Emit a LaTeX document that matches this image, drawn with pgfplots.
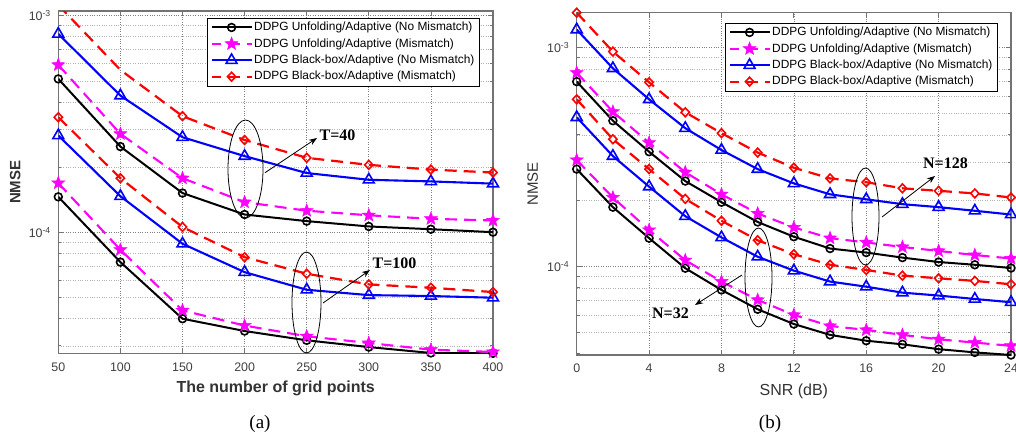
\documentclass[border=0pt]{standalone}
\usepackage{fontspec}
\setmainfont{Liberation Sans}
\newfontfamily\timesfont{Liberation Serif}
\usepackage{pgfplots}
\pgfplotsset{compat=1.18}
\usetikzlibrary{arrows.meta}
\definecolor{mag}{RGB}{255,0,255}
\definecolor{bl}{RGB}{0,0,255}
\definecolor{rd}{RGB}{255,0,0}

\pgfdeclareplotmark{fstar}{%
  \pgfpathmoveto{\pgfpointpolar{90}{\pgfplotmarksize}}%
  \pgfpathlineto{\pgfpointpolar{126}{0.42\pgfplotmarksize}}%
  \pgfpathlineto{\pgfpointpolar{162}{\pgfplotmarksize}}%
  \pgfpathlineto{\pgfpointpolar{198}{0.42\pgfplotmarksize}}%
  \pgfpathlineto{\pgfpointpolar{234}{\pgfplotmarksize}}%
  \pgfpathlineto{\pgfpointpolar{270}{0.42\pgfplotmarksize}}%
  \pgfpathlineto{\pgfpointpolar{306}{\pgfplotmarksize}}%
  \pgfpathlineto{\pgfpointpolar{342}{0.42\pgfplotmarksize}}%
  \pgfpathlineto{\pgfpointpolar{18}{\pgfplotmarksize}}%
  \pgfpathlineto{\pgfpointpolar{54}{0.42\pgfplotmarksize}}%
  \pgfpathclose
  \pgfusepathqfillstroke
}

\pgfplotsset{
  legend image code/.code={\draw[mark repeat=2,mark phase=2,#1,dash phase=3pt] plot coordinates {(0pt,0pt) (20pt,0pt) (40pt,0pt)};},
}

\begin{document}
\begin{tikzpicture}
\path[use as bounding box] (0pt,0pt) rectangle (1016pt,434pt);

% ---------------- (a) ----------------
\begin{axis}[
  scale only axis, anchor=south west, ymode=log,
  clip mode=individual,
  axis line style={draw=black!55, line width=1.2pt},
  tick style={draw=black!55, line width=0.8pt},
  tick align=inside, major tick length=5pt, minor tick length=3pt,
  xtick pos=both, ytick pos=both,
  grid=both,
  major grid style={dotted, black!50, line width=0.7pt},
  minor grid style={dotted, black!30, line width=0.6pt},
  tick label style={font=\fontsize{12.4}{14}\selectfont, text=black!75},
  xticklabel style={yshift=-5.5pt},
  yticklabel style={xshift=-4pt},
  /pgf/number format/assume math mode=true,
  legend cell align=left,
  legend style={font=\fontsize{11.9}{13}\selectfont, draw=black,
    inner xsep=3pt, inner ysep=2pt, row sep=1.9pt,
    nodes={inner sep=1.5pt, text height=9pt, text depth=2.5pt},
    at={(0.968,0.9795)}, anchor=north east},
  at={(58.3pt,80.7pt)}, width=434.7pt, height=342.3pt,
  xmin=50, xmax=400, ymin=2.77e-5, ymax=1.051e-3,
  xtick={50,100,...,400},
  ytick={1e-4,1e-3}, yticklabels={10\textsuperscript{-4},10\textsuperscript{-3}},
  minor ytick={3e-5,4e-5,5e-5,6e-5,7e-5,8e-5,9e-5,2e-4,3e-4,4e-4,5e-4,6e-4,7e-4,8e-4,9e-4},
  xlabel={\textbf{The number of grid points}},
  ylabel={\textbf{NMSE}},
  xlabel style={font=\fontsize{16}{18}\selectfont, text=black!80, at={(axis description cs:0.5,-0.1022)}, anchor=center},
  ylabel style={font=\fontsize{15}{17}\selectfont, text=black!80, at={(axis description cs:-0.0989,0.5)}, anchor=center},
]
\addplot[black, solid, line width=2pt, mark=o, mark size=3.9pt, mark options={solid, line width=1.6pt}] coordinates {(50,5.11e-4) (100,2.49e-4) (150,1.52e-4) (200,1.21e-4) (250,1.128e-4) (300,1.066e-4) (350,1.035e-4) (400,1.003e-4)};
\addlegendentry{DDPG Unfolding/Adaptive (No Mismatch)}
\addplot[mag, dash pattern=on 12pt off 7pt, line width=2.1pt, mark=fstar, mark size=6.8pt, mark options={solid, fill=mag, line width=0.5pt}] coordinates {(50,5.93e-4) (100,2.85e-4) (150,1.78e-4) (200,1.38e-4) (250,1.26e-4) (300,1.20e-4) (350,1.156e-4) (400,1.136e-4)};
\addlegendentry{DDPG Unfolding/Adaptive (Mismatch)}
\addplot[bl, solid, line width=2.1pt, mark=triangle, mark size=6.3pt, mark options={solid, line width=1.6pt}] coordinates {(50,8.24e-4) (100,4.28e-4) (150,2.75e-4) (200,2.25e-4) (250,1.88e-4) (300,1.75e-4) (350,1.72e-4) (400,1.68e-4)};
\addlegendentry{DDPG Black-box/Adaptive (No Mismatch)}
\addplot[rd, dash pattern=on 12pt off 7pt, line width=2.2pt, mark=diamond, mark size=4.4pt, mark options={solid, line width=1.6pt, xscale=1.25}, mark indices={2,3,4,5,6,7,8}, forget plot] coordinates {(50,1.12e-3) (100,5.62e-4) (150,3.44e-4) (200,2.67e-4) (250,2.21e-4) (300,2.05e-4) (350,1.95e-4) (400,1.89e-4)};
\addlegendimage{rd, dash pattern=on 12pt off 7pt, line width=2.2pt, mark=diamond, mark size=4.4pt, mark options={solid, line width=1.6pt, xscale=1.25}}
\addlegendentry{DDPG Black-box/Adaptive (Mismatch)}
\addplot[black, solid, line width=2pt, mark=o, mark size=3.9pt, mark options={solid, line width=1.6pt}, forget plot] coordinates {(50,1.46e-4) (100,7.30e-5) (150,4.00e-5) (200,3.51e-5) (250,3.18e-5) (300,2.96e-5) (350,2.78e-5) (400,2.77e-5)};
\addplot[mag, dash pattern=on 12pt off 7pt, line width=2.1pt, mark=fstar, mark size=6.8pt, mark options={solid, fill=mag, line width=0.5pt}, forget plot] coordinates {(50,1.69e-4) (100,8.32e-5) (150,4.37e-5) (200,3.72e-5) (250,3.32e-5) (300,3.09e-5) (350,2.88e-5) (400,2.81e-5)};
\addplot[bl, solid, line width=2.1pt, mark=triangle, mark size=6.3pt, mark options={solid, line width=1.6pt}, forget plot] coordinates {(50,2.80e-4) (100,1.47e-4) (150,8.87e-5) (200,6.56e-5) (250,5.44e-5) (300,5.14e-5) (350,5.09e-5) (400,5.00e-5)};
\addplot[rd, dash pattern=on 12pt off 7pt, line width=2.2pt, mark=diamond, mark size=4.4pt, mark options={solid, line width=1.6pt, xscale=1.25}, forget plot] coordinates {(50,3.40e-4) (100,1.78e-4) (150,1.06e-4) (200,7.69e-5) (250,6.45e-5) (300,5.76e-5) (350,5.56e-5) (400,5.31e-5)};
\end{axis}

% ---------------- (b) ----------------
\begin{axis}[
  scale only axis, anchor=south west, ymode=log,
  clip mode=individual,
  axis line style={draw=black!55, line width=1.2pt},
  tick style={draw=black!55, line width=0.8pt},
  tick align=inside, major tick length=5pt, minor tick length=3pt,
  xtick pos=both, ytick pos=both,
  grid=both,
  major grid style={dotted, black!50, line width=0.7pt},
  minor grid style={dotted, black!30, line width=0.6pt},
  tick label style={font=\fontsize{12.4}{14}\selectfont, text=black!75},
  xticklabel style={yshift=-5.5pt},
  yticklabel style={xshift=-4pt},
  /pgf/number format/assume math mode=true,
  legend cell align=left,
  legend style={font=\fontsize{11.9}{13}\selectfont, draw=black,
    inner xsep=3pt, inner ysep=2pt, row sep=1.9pt,
    nodes={inner sep=1.5pt, text height=9pt, text depth=2.5pt},
    at={(0.968,0.970)}, anchor=north east},
  at={(576.7pt,79pt)}, width=434.3pt, height=342.3pt,
  xmin=0, xmax=24, ymin=3.95e-5, ymax=1.445e-3,
  xtick={0,4,...,24},
  ytick={1e-4,1e-3}, yticklabels={10\textsuperscript{-4},10\textsuperscript{-3}},
  minor ytick={4e-5,5e-5,6e-5,7e-5,8e-5,9e-5,2e-4,3e-4,4e-4,5e-4,6e-4,7e-4,8e-4,9e-4},
  xlabel={SNR (dB)},
  ylabel={NMSE},
  xlabel style={font=\fontsize{16}{18}\selectfont, text=black!80, at={(axis description cs:0.5,-0.105)}, anchor=center},
  ylabel style={font=\fontsize{15}{17}\selectfont, text=black!80, at={(axis description cs:-0.1014,0.5)}, anchor=center},
]
\addplot[black, solid, line width=2pt, mark=o, mark size=3.9pt, mark options={solid, line width=1.6pt}] coordinates {(0,7.0e-4) (2,4.64e-4) (4,3.35e-4) (6,2.46e-4) (8,1.97e-4) (10,1.60e-4) (12,1.37e-4) (14,1.21e-4) (16,1.16e-4) (18,1.10e-4) (20,1.05e-4) (22,1.02e-4) (24,9.86e-5)};
\addlegendentry{DDPG Unfolding/Adaptive (No Mismatch)}
\addplot[mag, dash pattern=on 12pt off 7pt, line width=2.1pt, mark=fstar, mark size=6.8pt, mark options={solid, fill=mag, line width=0.5pt}] coordinates {(0,7.69e-4) (2,5.10e-4) (4,3.68e-4) (6,2.70e-4) (8,2.14e-4) (10,1.75e-4) (12,1.51e-4) (14,1.35e-4) (16,1.29e-4) (18,1.23e-4) (20,1.18e-4) (22,1.13e-4) (24,1.09e-4)};
\addlegendentry{DDPG Unfolding/Adaptive (Mismatch)}
\addplot[bl, solid, line width=2.1pt, mark=triangle, mark size=6.3pt, mark options={solid, line width=1.6pt}] coordinates {(0,1.21e-3) (2,8.05e-4) (4,5.81e-4) (6,4.29e-4) (8,3.41e-4) (10,2.79e-4) (12,2.40e-4) (14,2.14e-4) (16,2.03e-4) (18,1.93e-4) (20,1.87e-4) (22,1.80e-4) (24,1.73e-4)};
\addlegendentry{DDPG Black-box/Adaptive (No Mismatch)}
\addplot[rd, dash pattern=on 12pt off 7pt, line width=2.2pt, mark=diamond, mark size=4.4pt, mark options={solid, line width=1.6pt, xscale=1.25}] coordinates {(0,1.445e-3) (2,9.6e-4) (4,6.95e-4) (6,5.07e-4) (8,4.07e-4) (10,3.32e-4) (12,2.83e-4) (14,2.53e-4) (16,2.43e-4) (18,2.28e-4) (20,2.22e-4) (22,2.16e-4) (24,2.07e-4)};
\addlegendentry{DDPG Black-box/Adaptive (Mismatch)}
\addplot[black, solid, line width=2pt, mark=o, mark size=3.9pt, mark options={solid, line width=1.6pt}, forget plot] coordinates {(0,2.79e-4) (2,1.87e-4) (4,1.35e-4) (6,9.84e-5) (8,7.83e-5) (10,6.39e-5) (12,5.47e-5) (14,4.88e-5) (16,4.59e-5) (18,4.42e-5) (20,4.20e-5) (22,4.06e-5) (24,3.95e-5)};
\addplot[mag, dash pattern=on 12pt off 7pt, line width=2.1pt, mark=fstar, mark size=6.8pt, mark options={solid, fill=mag, line width=0.5pt}, forget plot] coordinates {(0,3.07e-4) (2,2.07e-4) (4,1.47e-4) (6,1.07e-4) (8,8.55e-5) (10,7.05e-5) (12,6.02e-5) (14,5.36e-5) (16,5.14e-5) (18,4.88e-5) (20,4.66e-5) (22,4.50e-5) (24,4.35e-5)};
\addplot[bl, solid, line width=2.1pt, mark=triangle, mark size=6.3pt, mark options={solid, line width=1.6pt}, forget plot] coordinates {(0,4.81e-4) (2,3.20e-4) (4,2.32e-4) (6,1.70e-4) (8,1.36e-4) (10,1.11e-4) (12,9.59e-5) (14,8.55e-5) (16,8.10e-5) (18,7.61e-5) (20,7.38e-5) (22,7.12e-5) (24,6.88e-5)};
\addplot[rd, dash pattern=on 12pt off 7pt, line width=2.2pt, mark=diamond, mark size=4.4pt, mark options={solid, line width=1.6pt, xscale=1.25}, forget plot] coordinates {(0,5.81e-4) (2,3.82e-4) (4,2.79e-4) (6,2.04e-4) (8,1.62e-4) (10,1.32e-4) (12,1.14e-4) (14,1.02e-4) (16,9.66e-5) (18,9.10e-5) (20,8.85e-5) (22,8.61e-5) (24,8.31e-5)};
\end{axis}

% ---------------- annotations ----------------
\begin{scope}[x=1pt, y=1pt]
  \draw[black, line width=0.8pt] (245.5,265) ellipse [x radius=17.5, y radius=49];
  \draw[black, line width=0.8pt, -{Stealth[length=8pt,width=6pt]}] (265,261.3) -- (317,296);
  \node[font=\timesfont\bfseries\fontsize{16}{18}\selectfont] at (337.5,299) {T=40};
  \draw[black, line width=0.8pt] (306.5,131.5) ellipse [x radius=14.5, y radius=50.5];
  \draw[black, line width=0.8pt, -{Stealth[length=8pt,width=6pt]}] (323,131) -- (370,164);
  \node[font=\timesfont\bfseries\fontsize{16}{18}\selectfont] at (394.5,171) {T=100};

  \draw[black, line width=0.8pt] (865.5,217.5) ellipse [x radius=13.5, y radius=48.5];
  \draw[black, line width=0.8pt, -{Stealth[length=8pt,width=6pt]}] (882,217) -- (935,258);
  \node[font=\timesfont\bfseries\fontsize{16}{18}\selectfont] at (945.5,271) {N=128};
  \draw[black, line width=0.8pt] (758.5,156.5) ellipse [x radius=13.5, y radius=49.5];
  \draw[black, line width=0.8pt, -{Stealth[length=8pt,width=6pt]}] (742,159) -- (695,129);
  \node[font=\timesfont\bfseries\fontsize{16}{18}\selectfont] at (670.5,121) {N=32};

  \node[font=\timesfont\fontsize{19}{21}\selectfont] at (260,10) {(a)};
  \node[font=\timesfont\fontsize{19}{21}\selectfont] at (770,10) {(b)};
\end{scope}
\end{tikzpicture}
\end{document}
